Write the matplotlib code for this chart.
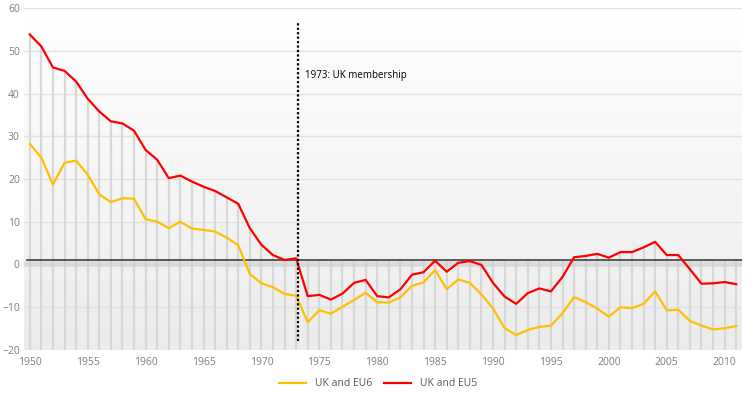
import numpy as np
import matplotlib
matplotlib.use("Agg")
import matplotlib.pyplot as plt
from matplotlib.colors import LinearSegmentedColormap

years = list(range(1950, 2012))

uk_eu5 = [53.8, 51.0, 46.1, 45.3, 42.8, 38.8, 35.8, 33.5, 33.0, 31.3,
          26.8, 24.5, 20.2, 20.8, 19.4, 18.2, 17.2, 15.7, 14.2, 8.5,
          4.6, 2.2, 1.05, 1.45, -7.4, -7.1, -8.2, -6.8, -4.3, -3.6,
          -7.4, -7.7, -5.8, -2.4, -1.8, 0.9, -1.7, 0.4, 0.8, -0.1,
          -4.3, -7.5, -9.2, -6.7, -5.6, -6.3, -2.9, 1.7, 2.0, 2.5,
          1.6, 2.9, 2.9, 4.0, 5.3, 2.2, 2.2, -1.1, -4.5, -4.4,
          -4.1, -4.6]

uk_eu6 = [28.2, 25.0, 18.7, 23.8, 24.3, 21.0, 16.4, 14.6, 15.5, 15.4,
          10.6, 10.0, 8.5, 10.0, 8.4, 8.1, 7.7, 6.3, 4.5, -2.2,
          -4.4, -5.3, -6.9, -7.3, -13.5, -10.7, -11.5, -9.9, -8.3, -6.6,
          -8.8, -8.9, -7.7, -5.0, -4.2, -1.3, -5.8, -3.5, -4.3, -7.0,
          -10.3, -14.9, -16.5, -15.3, -14.6, -14.3, -11.4, -7.6, -8.8, -10.3,
          -12.2, -10.0, -10.2, -9.2, -6.3, -10.7, -10.6, -13.2, -14.3, -15.2,
          -14.9, -14.4]

ref_level = 1.0
membership_year = 1973.2
membership_label = "1973: UK membership"

fig = plt.figure(figsize=(7.54, 3.97), dpi=100)
ax = fig.add_axes([24 / 754, 1 - 350 / 397, 718 / 754, 342 / 397])

xmin, xmax = 1949.5, 2011.5
ymin, ymax = -20, 60

# background gradient, white at the top
grad = np.linspace(0, 1, 256).reshape(-1, 1)
cmap = LinearSegmentedColormap.from_list("bg", ["#ffffff", "#ececec"])
ax.imshow(grad, extent=[xmin, xmax, ymin, ymax], cmap=cmap, aspect="auto",
          origin="upper", zorder=0)

for v in range(-10, 61, 10):
    ax.axhline(v, color="#e2e2e2", lw=1, zorder=1)

# drop lines
tops = [max(r, ref_level) for r in uk_eu5]
ax.vlines(years, ymin, tops, color="#d8d8d8", lw=1.6, zorder=2)

# reference line with a soft shadow
ax.plot([1949.8, xmax], [ref_level - 0.9, ref_level - 0.9], color="#cfcfcf", lw=4, alpha=0.6, zorder=3)
ax.plot([1949.8, xmax], [ref_level, ref_level], color="#404040", lw=1.2, zorder=4)

ax.plot(years, uk_eu6, color="#FFC000", lw=1.6, label="UK and EU6", zorder=5)
ax.plot(years, uk_eu5, color="#FF0000", lw=1.6, label="UK and EU5", zorder=5)

ax.plot([membership_year, membership_year], [-18, 57], color="black", lw=1.6,
        linestyle=(0, (1, 1)), zorder=6)
ax.text(1973.8, 44.1, membership_label, fontsize=7, color="black",
        family="Open Sans", va="center")

ax.set_xlim(xmin, xmax)
ax.set_ylim(ymin, ymax)
ax.set_xticks(range(1950, 2011, 5))
ax.set_yticks(range(-20, 61, 10))
ax.tick_params(axis="x", length=0, labelsize=7.5, labelcolor="#7f7f7f", pad=5)
ax.tick_params(axis="y", length=0, labelsize=7.5, labelcolor="#7f7f7f", pad=3)
for lab in ax.get_xticklabels() + ax.get_yticklabels():
    lab.set_family("Open Sans")
for s in ax.spines.values():
    s.set_visible(False)

fig.legend(loc="center", bbox_to_anchor=(378 / 754, 1 - 384 / 397), ncol=2,
           frameon=False, handlelength=2.6, columnspacing=1.2,
           prop={"family": "Open Sans", "size": 7.5}, labelcolor="#595959")

fig.savefig("out.png", dpi=100)
